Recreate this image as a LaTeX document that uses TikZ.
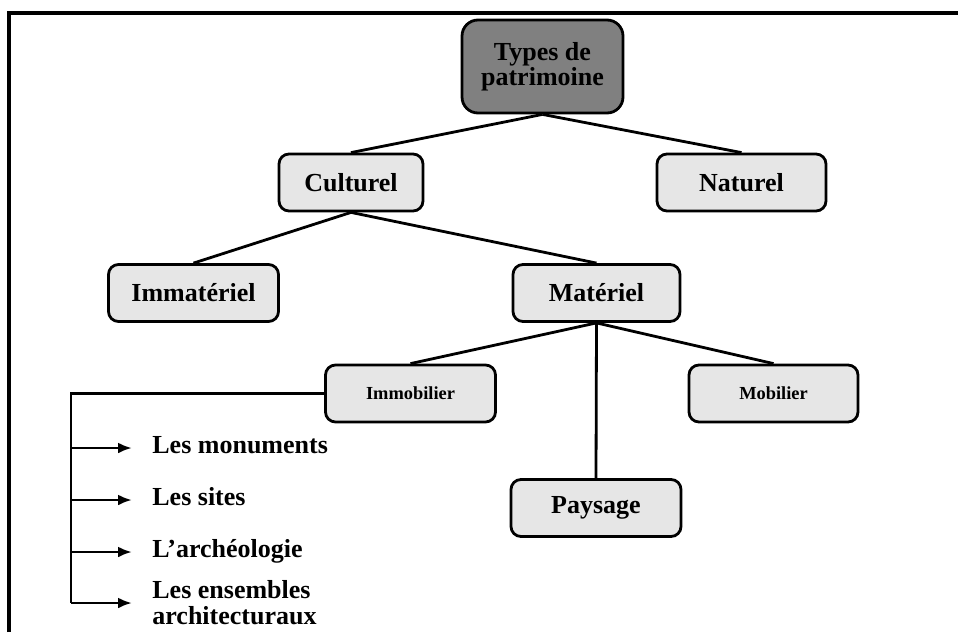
\documentclass[tikz,border=0pt]{standalone}
\usepackage{fontspec}
\setmainfont{Liberation Serif}
\usetikzlibrary{arrows.meta, positioning}
\definecolor{boxgray}{HTML}{E6E6E6}
\definecolor{rootgray}{HTML}{808080}

\begin{document}
\begin{tikzpicture}[
    x = 0.5pt, y = -0.5pt,
    > = {Latex[length = 7pt, width = 5.5pt]},
    link/.style = {line width = 1.4pt},
    box/.style = {draw, rounded corners = 5pt, fill = boxgray, line width = 1.4pt,
                  inner sep = 0pt, minimum width = 85pt, minimum height = 28.5pt,
                  font = \bfseries\fontsize{13}{15}\selectfont},
    smallbox/.style = {box, font = \bfseries\fontsize{9.2}{11}\selectfont},
    root/.style = {box, fill = rootgray, rounded corners = 8pt, minimum width = 80.5pt,
                   minimum height = 46.5pt, align = center,
                   font = \bfseries\fontsize{13}{12.5}\selectfont},
    item/.style = {anchor = west, inner xsep = 10pt, inner ysep = 0pt,
                   text height = 8.5pt, text depth = 3pt,
                   font = \bfseries\fontsize{13}{13}\selectfont},
    itemlong/.style = {anchor = west, inner xsep = 10pt, inner ysep = 0pt, align = left,
                       font = \bfseries\fontsize{13}{13}\selectfont}
]

\useasboundingbox (0,0) rectangle (958,632);

% Frame
\draw[line width = 2pt] (9,632) -- (9,12.5) -- (958,12.5);

% Boxes
\node[root]                         (types) at (542.5,66.5) {Types de\\patrimoine};
\node[box, minimum width = 72pt]    (cult)  at (351,182.5)  {Culturel};
\node[box, minimum width = 84.5pt]  (nat)   at (741.5,182.5) {Naturel};
\node[box]                          (immat) at (193.5,293)  {Immatériel};
\node[box, minimum width = 83.5pt]  (mat)   at (596.5,293)  {Matériel};
\node[smallbox]                     (immo)  at (410.5,393.5) {Immobilier};
\node[smallbox, minimum width = 84.5pt] (mob) at (773.5,393.5) {Mobilier};
\node[box]                          (pays)  at (596,508)    {Paysage};

% List of Immobilier
\node[item]     (monu)  at (132,448) {Les monuments};
\node[item]     (sites) at (132,500) {Les sites};
\node[item]     (arch)  at (132,552) {L’archéologie};
\node[itemlong] (ens)   at (132,603) {Les ensembles\\architecturaux};
\coordinate (corner) at (71,603);

% Links
\draw[link] (types.south) to (cult.north);
\draw[link] (types.south) to (nat.north);
\draw[link] (cult.south)  to (immat.north);
\draw[link] (cult.south)  to (mat.north);
\draw[link] (mat.south)   to (immo.north);
\draw[link] (mat.south)   to (mob.north);
\draw[link] (mat.south)   to (pays.north);

\draw[link] (immo.west) -| (corner);
\foreach \n in {monu, sites, arch, ens}
    \draw[link, ->] (\n.west -| corner) -- (\n.west);

\end{tikzpicture}
\end{document}
